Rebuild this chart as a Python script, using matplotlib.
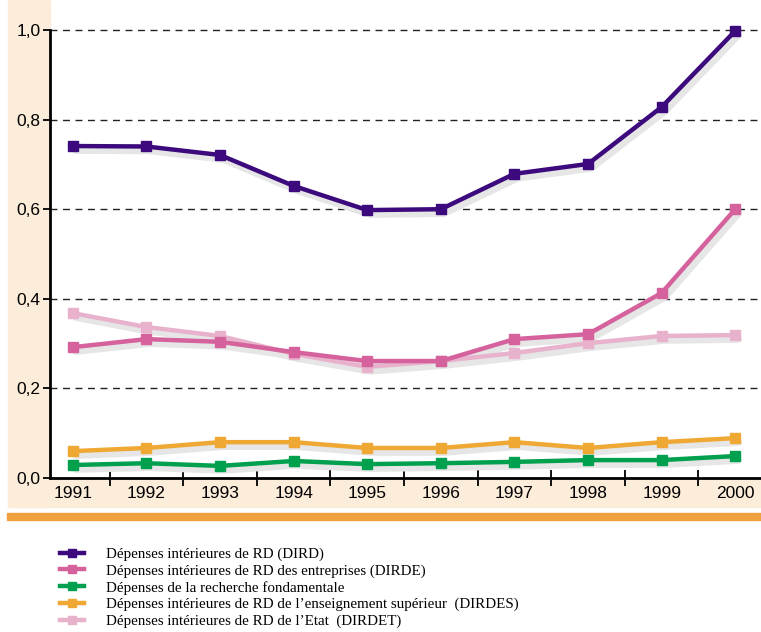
import numpy as np
import matplotlib.pyplot as plt
import matplotlib.transforms as mtransforms
from matplotlib.patches import Rectangle

# data
years = [1991, 1992, 1993, 1994, 1995, 1996, 1997, 1998, 1999, 2000]
dird = [0.741, 0.740, 0.721, 0.652, 0.598, 0.600, 0.679, 0.701, 0.828, 0.998]
dirde = [0.292, 0.310, 0.304, 0.281, 0.261, 0.261, 0.310, 0.321, 0.413, 0.600]
fondamentale = [0.029, 0.033, 0.027, 0.038, 0.031, 0.033, 0.036, 0.040, 0.040, 0.049]
dirdes = [0.060, 0.067, 0.080, 0.080, 0.067, 0.067, 0.080, 0.067, 0.080, 0.089]
dirdet = [0.368, 0.337, 0.317, 0.277, 0.248, 0.261, 0.279, 0.301, 0.317, 0.319]
yticks = [0.0, 0.2, 0.4, 0.6, 0.8, 1.0]
ytick_labels = ["0,0", "0,2", "0,4", "0,6", "0,8", "1,0"]

labels = ["Dépenses intérieures de RD (DIRD)",
          "Dépenses intérieures de RD des entreprises (DIRDE)",
          "Dépenses de la recherche fondamentale",
          "Dépenses intérieures de RD de l\u2019enseignement supérieur  (DIRDES)",
          "Dépenses intérieures de RD de l\u2019Etat  (DIRDET)"]
colors = ["#3c0a7c", "#d5619d", "#00a04e", "#f0a834", "#e8b2cc"]
series = [dird, dirde, fondamentale, dirdes, dirdet]

cream = "#fcecda"

fig = plt.figure(figsize=(7.61, 6.32), dpi=100)
W, H = 761, 632

# background bands (behind the axes)
fig.patches.append(Rectangle((8 / W, 1 - 507 / H), 42 / W, 507 / H,
                             transform=fig.transFigure, color=cream, zorder=-5))
fig.patches.append(Rectangle((8 / W, 1 - 507 / H), 753 / W, 29 / H,
                             transform=fig.transFigure, color=cream, zorder=-5))
fig.patches.append(Rectangle((7 / W, 1 - 520 / H), 754 / W, 7 / H,
                             transform=fig.transFigure, color="#f0a03c", zorder=-5))

ax = fig.add_axes([50 / W, 1 - 478 / H, 711 / W, 478 / H])
ax.patch.set_alpha(0)

shadow_tr = mtransforms.offset_copy(ax.transData, fig=fig, x=3, y=-4, units="dots")

for i in [4, 3, 2, 1, 0]:
    ax.plot(years, series[i], color="#e6e6e6", lw=5.5, transform=shadow_tr,
            zorder=2, solid_capstyle="round", solid_joinstyle="round")
for i in [4, 3, 2, 1, 0]:
    ax.plot(years, series[i], color=colors[i], lw=3.2, marker="s", ms=7,
            zorder=3 + (4 - i), label=labels[i], solid_joinstyle="round")

ax.set_xlim(1990.69, 2000.35)
ax.set_ylim(0, 478 / 448)
ax.set_yticks(yticks)
ax.set_yticklabels(ytick_labels)
ax.set_xticks(years)
ax.set_xticks([y + 0.5 for y in years[:-1]], minor=True)
ax.tick_params(axis="x", which="major", length=0, pad=6, labelsize=12.5)
ax.tick_params(axis="x", which="minor", length=11, width=1.3, direction="inout")
ax.tick_params(axis="y", length=5, width=1.3, labelsize=12.5, pad=2)

for y in yticks[1:]:
    ax.axhline(y, color="#222222", lw=1, ls=(0, (5, 4)), zorder=1)

ax.spines["top"].set_visible(False)
ax.spines["right"].set_visible(False)
ax.spines["left"].set_bounds(0, 1.0)
ax.spines["left"].set_linewidth(2)
ax.spines["bottom"].set_linewidth(2)

for lbl in ax.get_xticklabels() + ax.get_yticklabels():
    lbl.set_family("Liberation Sans")

handles, lab = ax.get_legend_handles_labels()
hmap = dict(zip(lab, handles))
fig.legend([hmap[l] for l in labels], labels, loc="upper left",
           bbox_to_anchor=(52 / W, 1 - 540 / H), frameon=False,
           prop={"family": "Liberation Serif", "size": 10.8},
           handlelength=1.65, handletextpad=1.45, labelspacing=0.2,
           borderpad=0, markerscale=0.9)

fig.savefig("out.png", dpi=100)
